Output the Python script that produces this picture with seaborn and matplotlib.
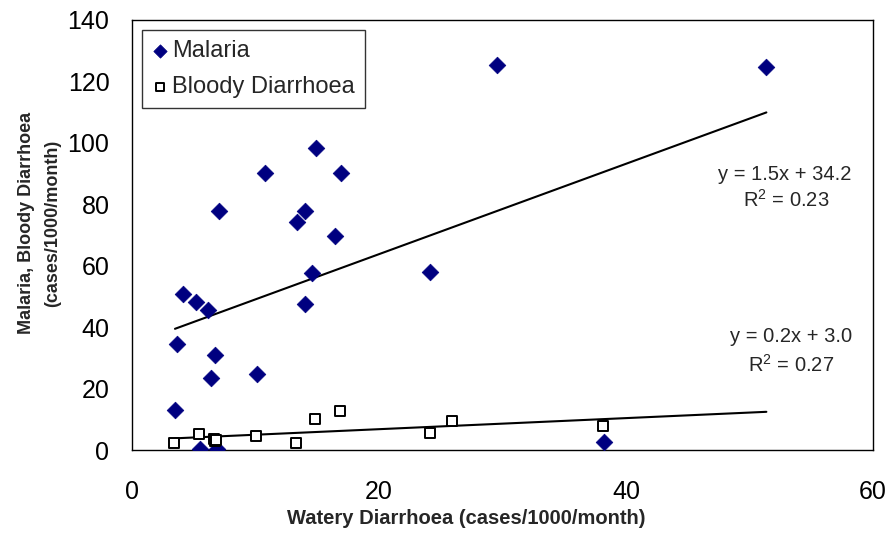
import numpy as np
import pandas as pd
import matplotlib
matplotlib.use("Agg")
import matplotlib.pyplot as plt
import seaborn as sns

# Malaria vs watery diarrhoea
mal_x = [3.48, 3.64, 4.1, 5.18, 6.13, 6.72, 6.42, 10.12, 5.48, 6.88, 13.98, 14.57,
         16.46, 24.1, 29.58, 51.36, 38.25, 14.93, 10.74, 16.92, 7.04, 13.98, 13.39]
mal_y = [12.9, 34.6, 50.7, 48.3, 45.6, 30.8, 23.4, 24.7, 0.4, 0.3, 47.5, 57.5,
         69.7, 58.0, 125.3, 124.7, 2.5, 98.2, 90.1, 90.1, 77.8, 77.8, 74.1]

# Bloody diarrhoea vs watery diarrhoea
bd_x = [3.4, 5.4, 6.67, 6.75, 6.8, 10.04, 13.28, 14.84, 16.84, 24.1, 25.94, 38.17]
bd_y = [2.2, 5.3, 3.5, 2.9, 3.2, 4.6, 2.2, 10.2, 12.6, 5.4, 9.5, 7.7]

mal_eq = ["y = 1.5x + 34.2", "R$^2$ = 0.23"]
bd_eq = ["y = 0.2x + 3.0", "R$^2$ = 0.27"]

x_ticks = [0, 20, 40, 60]
y_ticks = [0, 20, 40, 60, 80, 100, 120, 140]

sns.set_theme(style="white")
plt.rcParams['font.family'] = ['Liberation Sans', 'DejaVu Sans']
plt.rcParams['mathtext.fontset'] = 'custom'
plt.rcParams['mathtext.rm'] = 'Liberation Sans'

fig = plt.figure(figsize=(8.9, 5.39), dpi=100)
ax = fig.add_axes([0.1483, 0.165, 0.981 - 0.1483, 0.9635 - 0.165])

df_m = pd.DataFrame({"x": mal_x, "y": mal_y})
df_b = pd.DataFrame({"x": bd_x, "y": bd_y})

sns.scatterplot(data=df_m, x="x", y="y", ax=ax, marker="D", s=72, color="#000080",
                edgecolor="#000080", linewidth=0.5, label="Malaria", zorder=3)
sns.scatterplot(data=df_b, x="x", y="y", ax=ax, marker="s", s=55, facecolor="white",
                edgecolor="black", linewidth=1.4, label="Bloody Diarrhoea", zorder=3)

# trend lines (least squares), spanning the range of watery diarrhoea values
xr = np.linspace(min(mal_x), max(mal_x), 50)
pm = np.polyfit(mal_x, mal_y, 1)
pb = np.polyfit(bd_x, bd_y, 1)
ax.plot(xr, np.polyval(pm, xr), color="black", lw=1.5, zorder=2)
ax.plot(xr, np.polyval(pb, xr), color="black", lw=1.5, zorder=2)

eq_fs = 14.5
ax.text(52.87, 89.6, mal_eq[0], ha="center", va="center", fontsize=eq_fs)
ax.text(52.99, 81.3, mal_eq[1], ha="center", va="center", fontsize=eq_fs)
ax.text(53.36, 37.1, bd_eq[0], ha="center", va="center", fontsize=eq_fs)
ax.text(53.36, 27.6, bd_eq[1], ha="center", va="center", fontsize=eq_fs)

ax.set_xlim(0, 60)
ax.set_ylim(0, 140)
ax.set_xticks(x_ticks)
ax.set_yticks(y_ticks)
ax.tick_params(axis="x", direction="out", length=6.5, width=1, colors="black",
               labelsize=18, pad=15)
ax.tick_params(axis="y", direction="out", length=7.2, width=1, colors="black",
               labelsize=18, pad=9)
for s in ax.spines.values():
    s.set_color("black")
    s.set_linewidth(1.0)

ax.set_xlabel("Watery Diarrhoea (cases/1000/month)", fontsize=14.5, fontweight="bold")
ax.xaxis.label.set_va("center")
ax.xaxis.set_label_coords(0.4507, -0.160)
ax.set_ylabel("Malaria, Bloody Diarrhoea\n(cases/1000/month)", fontsize=13,
              fontweight="bold", linespacing=1.7)
ax.yaxis.label.set_va("center")
ax.yaxis.set_label_coords(-0.125, 0.5275)

leg = ax.legend(loc="upper left", bbox_to_anchor=(0.0131, 0.976), borderaxespad=0,
                fontsize=17, frameon=True, fancybox=False, edgecolor="black",
                handletextpad=0.16, borderpad=0.42, labelspacing=0.6,
                handlelength=0.7, markerscale=0.8)
leg.get_frame().set_linewidth(1.0)

fig.savefig("out.png", dpi=100)
